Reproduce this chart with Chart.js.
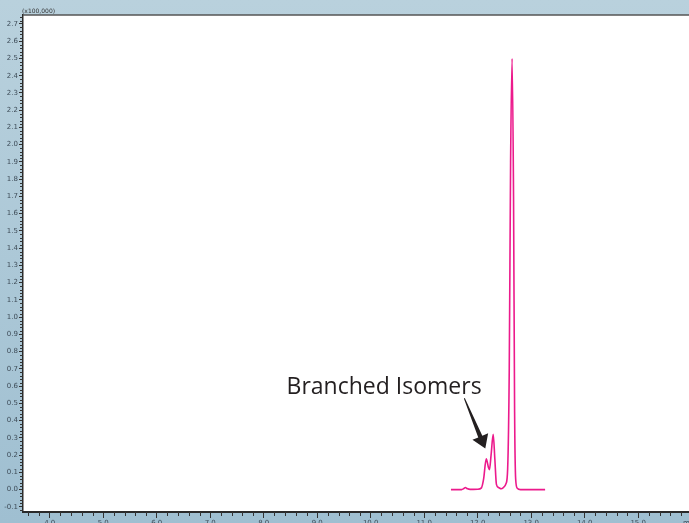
<html>
<head>
<script src="https://cdn.jsdelivr.net/npm/chart.js@4.4.1/dist/chart.umd.min.js"></script>
<style>
  html, body {
    margin: 0;
    height: 100%;
    background: linear-gradient(to bottom, #b9d1dd, #9fbfd1);
  }
  .wrap {
    width: 689px;
    height: 523px;
  }
</style>
</head>
<body>
<div class="wrap"><canvas id="myChart" width="689" height="523"></canvas></div>
<script>
// retention time (min) and intensity (x100,000)
const times = [
  11.50, 11.70, 11.74, 11.77, 11.80, 11.86, 12.00, 12.07, 12.11, 12.16,
  12.20, 12.22, 12.25, 12.29, 12.32, 12.35, 12.39, 12.44, 12.48, 12.53,
  12.56, 12.59, 12.615, 12.643, 12.67, 12.69, 12.71, 12.74, 12.80, 13.26
];
const intensity = [
  0.000, 0.000, 0.006, 0.012, 0.006, 0.001, 0.002, 0.010, 0.060, 0.178,
  0.130, 0.116, 0.200, 0.320, 0.180, 0.030, 0.012, 0.005, 0.012, 0.035,
  0.120, 0.700, 1.900, 2.500, 1.700, 0.450, 0.060, 0.008, 0.000, 0.000
];
const xTickLabels = [4, 5, 6, 7, 8, 9, 10, 11, 12, 13, 14, 15];

// annotation, in data units
const noteText = "Branched Isomers";
const notePos = { x: 10.25, y: 0.557 };
const arrowFrom = { x: 11.75, y: 0.53 };
const arrowTo = { x: 12.142, y: 0.238 };

const axisColor = "#333333";
const labelColor = "#3e4c58";

const extras = {
  id: "extras",
  beforeDraw(chart) {
    const { ctx, chartArea: a } = chart;
    ctx.save();
    ctx.fillStyle = "#ffffff";
    ctx.fillRect(a.left, a.top, a.right - a.left, a.bottom - a.top);
    ctx.restore();
  },
  afterDraw(chart) {
    const { ctx, chartArea: a } = chart;
    const xs = chart.scales.x, ys = chart.scales.y;
    ctx.save();
    // top frame line
    ctx.strokeStyle = "#555555";
    ctx.lineWidth = 1.5;
    ctx.beginPath();
    ctx.moveTo(a.left, a.top);
    ctx.lineTo(a.right, a.top);
    ctx.stroke();

    // minor ticks
    ctx.strokeStyle = axisColor;
    ctx.lineWidth = 1;
    for (let i = 18; i <= 79; i++) {
      const v = i / 5;
      if (i % 5 === 0) continue;
      const px = Math.round(xs.getPixelForValue(v)) + 0.5;
      ctx.beginPath();
      ctx.moveTo(px, a.bottom);
      ctx.lineTo(px, a.bottom + 4);
      ctx.stroke();
    }
    for (let i = -6; i <= 137; i++) {
      if (i % 5 === 0) continue;
      const py = Math.round(ys.getPixelForValue(i / 50)) + 0.5;
      if (py < a.top || py > a.bottom) continue;
      ctx.beginPath();
      ctx.moveTo(a.left - 3, py);
      ctx.lineTo(a.left, py);
      ctx.stroke();
    }

    // unit labels
    ctx.fillStyle = axisColor;
    ctx.font = "6px 'DejaVu Sans'";
    ctx.textBaseline = "bottom";
    ctx.fillText("(x100,000)", a.left - 1, a.top - 1);
    ctx.fillStyle = labelColor;
    ctx.font = "7px 'DejaVu Sans'";
    ctx.textBaseline = "top";
    ctx.fillText("min", a.right - 6, a.bottom + 8);

    // annotation text
    ctx.fillStyle = "#231f20";
    ctx.font = "23px 'Open Sans'";
    ctx.textAlign = "center";
    ctx.textBaseline = "alphabetic";
    ctx.fillText(noteText, xs.getPixelForValue(notePos.x), ys.getPixelForValue(notePos.y));

    // arrow
    const x0 = xs.getPixelForValue(arrowFrom.x), y0 = ys.getPixelForValue(arrowFrom.y);
    const x1 = xs.getPixelForValue(arrowTo.x), y1 = ys.getPixelForValue(arrowTo.y);
    const len = Math.hypot(x1 - x0, y1 - y0);
    const ux = (x1 - x0) / len, uy = (y1 - y0) / len;
    const nx = -uy, ny = ux;
    const headLen = 13, headW = 8.5;
    const bx = x1 - ux * headLen, by = y1 - uy * headLen;
    ctx.beginPath();
    ctx.moveTo(x0 + nx * 0.5, y0 + ny * 0.5);
    ctx.lineTo(bx + nx * 2.2, by + ny * 2.2);
    ctx.lineTo(bx + nx * headW, by + ny * headW);
    ctx.lineTo(x1, y1);
    ctx.lineTo(bx - nx * headW, by - ny * headW);
    ctx.lineTo(bx - nx * 2.2, by - ny * 2.2);
    ctx.lineTo(x0 - nx * 0.5, y0 - ny * 0.5);
    ctx.closePath();
    ctx.fill();
    ctx.restore();
  }
};

const points = times.map((t, i) => ({ x: t, y: intensity[i] }));

new Chart(document.getElementById("myChart"), {
  type: "line",
  data: {
    datasets: [{
      data: points,
      borderColor: "#ec1a8c",
      borderWidth: 1.6,
      pointRadius: 0,
      cubicInterpolationMode: "monotone",
      fill: false
    }]
  },
  options: {
    responsive: false,
    animation: false,
    layout: { padding: { top: 15, left: 0, right: 0, bottom: 0 } },
    plugins: { legend: { display: false }, tooltip: { enabled: false } },
    scales: {
      x: {
        type: "linear",
        min: 3.5,
        max: 15.95,
        afterBuildTicks(scale) {
          scale.ticks = xTickLabels.map(v => ({ value: v }));
        },
        afterFit(scale) {
          scale.height = 11;
          scale.paddingLeft = 0;
          scale.paddingRight = 0;
        },
        ticks: {
          autoSkip: false,
          maxRotation: 0,
          padding: 1,
          color: labelColor,
          font: { family: "DejaVu Sans", size: 7 },
          callback: v => Number(v).toFixed(1)
        },
        grid: { drawOnChartArea: false, tickLength: 6, color: axisColor, lineWidth: 1 },
        border: { color: "#2a2a2a", width: 2 }
      },
      y: {
        min: -0.13,
        max: 2.752,
        afterBuildTicks(scale) {
          const t = [];
          for (let i = -1; i <= 27; i++) t.push({ value: i / 10 });
          scale.ticks = t;
        },
        afterFit(scale) {
          scale.width = 23;
          scale.paddingTop = 0;
          scale.paddingBottom = 0;
        },
        ticks: {
          autoSkip: false,
          padding: 1,
          color: labelColor,
          font: { family: "DejaVu Sans", size: 7 },
          callback: v => Number(v).toFixed(1)
        },
        grid: { drawOnChartArea: false, tickLength: 4, color: axisColor, lineWidth: 1 },
        border: { color: "#2a2a2a", width: 1.5 }
      }
    }
  },
  plugins: [extras]
});
</script>
</body>
</html>
